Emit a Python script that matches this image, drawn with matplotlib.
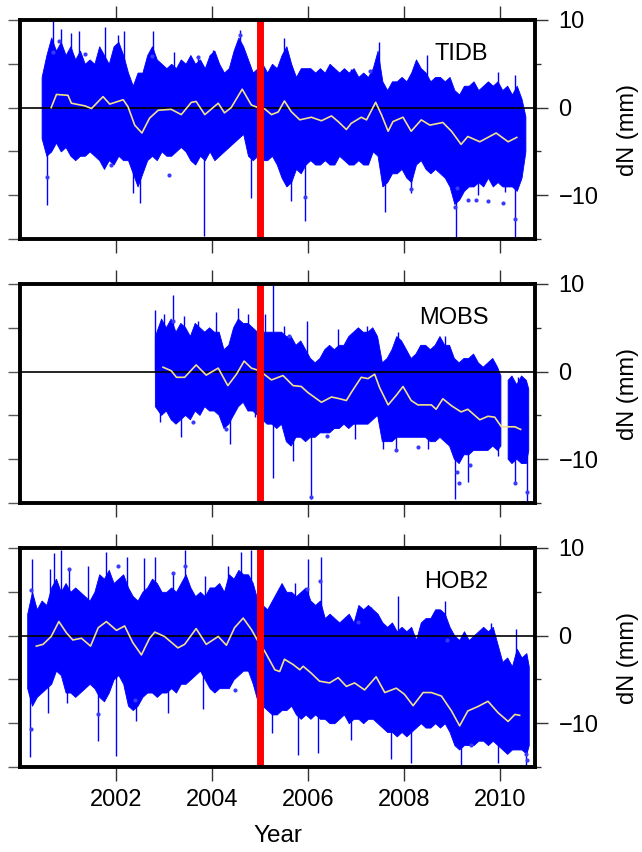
import matplotlib
matplotlib.use("Agg")
import matplotlib.pyplot as plt
import numpy as np

plt.rcParams['font.family'] = ['Liberation Sans', 'DejaVu Sans']

# ---------------- TIDB ----------------
tidb_yr = [2000.45, 2000.55, 2000.65, 2000.75, 2000.85, 2000.95,
           2001.05, 2001.15, 2001.25, 2001.35, 2001.45, 2001.55, 2001.65, 2001.75, 2001.85, 2001.95,
           2002.05, 2002.15, 2002.25, 2002.35, 2002.45, 2002.55, 2002.65, 2002.75, 2002.85, 2002.95,
           2003.05, 2003.15, 2003.25, 2003.35, 2003.45, 2003.55, 2003.65, 2003.75, 2003.85, 2003.95,
           2004.05, 2004.15, 2004.25, 2004.35, 2004.45, 2004.55, 2004.65, 2004.75, 2004.85, 2004.95,
           2005.05, 2005.15, 2005.25, 2005.35, 2005.45, 2005.55, 2005.65, 2005.75, 2005.85, 2005.95,
           2006.05, 2006.15, 2006.25, 2006.35, 2006.45, 2006.55, 2006.65, 2006.75, 2006.85, 2006.95,
           2007.05, 2007.15, 2007.25, 2007.35, 2007.45, 2007.55, 2007.65, 2007.75, 2007.85, 2007.95,
           2008.05, 2008.15, 2008.25, 2008.35, 2008.45, 2008.55, 2008.65, 2008.75, 2008.85, 2008.95,
           2009.05, 2009.15, 2009.25, 2009.35, 2009.45, 2009.55, 2009.65, 2009.75, 2009.85, 2009.95,
           2010.05, 2010.15, 2010.25, 2010.35, 2010.45, 2010.53]
tidb_up = [3.5, 6, 8, 6.5, 7.5, 6,
           7, 5.5, 6.5, 5, 5.5, 5, 7, 6, 5, 7,
           7.5, 6, 4, 2.5, 4, 4, 6, 7, 5.5, 5,
           4.5, 5, 4.5, 5.5, 5, 6, 5, 5.5, 4.5, 6,
           6.5, 5, 4, 4.5, 6.5, 8, 7, 5.5, 4, 4.5,
           5, 4, 5, 4.5, 6, 7, 5, 3.5, 4.5, 4.5,
           4.5, 4, 4.5, 4, 5, 4.5, 4, 4.5, 4, 4.5,
           3.5, 4, 3.5, 4.5, 6.5, 3, 2, 3, 3, 3.5,
           3, 4, 5.5, 4.5, 4, 3, 3.5, 3.5, 3, 3.5,
           2, 1.5, 2.5, 2.5, 3, 2, 2.5, 3, 2.5, 3,
           2, 2.5, 1.5, 2.5, 1, -1]
tidb_lo = [-3.5, -5.5, -5, -4, -5, -4.5,
           -5.5, -6, -5.5, -5.5, -5, -5.5, -6, -7, -6, -6.5,
           -5.5, -6, -6, -7.5, -9, -7.5, -6, -5.5, -6, -5,
           -5.5, -5.5, -5, -4.5, -5, -6, -6.5, -5.5, -6, -5,
           -6, -5.5, -5, -4.5, -4, -3.5, -3, -5.5, -6, -5.5,
           -6, -6, -5.5, -6.5, -8, -9, -8.5, -7, -7.5, -6.5,
           -6, -6.5, -6.5, -6, -6.5, -6.5, -5.5, -6, -6.5, -6.5,
           -6, -6.5, -6.5, -5, -5.5, -9, -8.5, -7.5, -7.5, -7,
           -8, -8.5, -6.5, -6, -7, -7.5, -7, -7.5, -8, -9,
           -11, -10.5, -9.5, -9, -9, -8.5, -9, -8, -9, -8.5,
           -9, -9, -9, -9.5, -8, -5]
tidb_sm_x = [2000.65, 2000.76, 2001.0, 2001.07, 2001.35, 2001.49, 2001.73, 2001.87, 2002.15, 2002.25,
             2002.39, 2002.54, 2002.70, 2002.88, 2003.15, 2003.36, 2003.57, 2003.67, 2003.85, 2004.13,
             2004.26, 2004.40, 2004.63, 2004.82, 2004.96, 2005.10, 2005.24, 2005.38, 2005.51, 2005.65,
             2005.83, 2006.07, 2006.28, 2006.49, 2006.63, 2006.80, 2006.90, 2007.11, 2007.22, 2007.41,
             2007.53, 2007.67, 2007.77, 2007.98, 2008.15, 2008.36, 2008.54, 2008.81, 2008.99, 2009.19,
             2009.33, 2009.58, 2009.92, 2010.17, 2010.35]
tidb_sm_y = [0.0, 1.5, 1.4, 0.5, 0.2, -0.1, 1.25, 0.4, 0.9, 0.1,
             -2.0, -2.9, -1.2, -0.3, -0.2, -0.8, 0.6, 0.7, -0.8, 0.5,
             -0.6, 0.0, 2.1, 0.3, 0.0, -0.15, -0.8, -0.5, 0.76, -0.45,
             -1.4, -1.1, -1.5, -0.95, -1.6, -2.5, -1.8, -1.1, -1.4, 0.6,
             -0.8, -2.7, -1.6, -1.1, -2.7, -1.4, -2.0, -1.7, -2.7, -4.2,
             -3.3, -3.9, -2.9, -3.9, -3.4]
# single long error bars: (year, low, high)
tidb_spk = [(2000.69, 0, 10), (2000.85, 0, 9.0), (2001.07, 0, 8.5), (2001.23, 0, 8.7),
            (2001.78, 0, 9.2), (2002.04, 0, 8.3), (2002.17, 0, 8.7), (2002.77, 0, 8.7),
            (2003.20, 0, 6.4), (2003.71, 0, 5.8), (2004.02, 0, 6.6), (2004.58, 0, 8.9),
            (2005.51, 0, 7.9), (2006.90, -2, 4.4), (2007.49, 0, 7.5), (2008.47, -2, 6.0),
            (2009.96, -3, 4.1), (2010.31, -3, 3.7),
            (2000.57, -11.1, -3), (2002.35, -9.8, -3), (2002.49, -10.9, -3), (2003.83, -14.7, -3),
            (2004.82, -10.3, -3), (2005.65, -10.7, -3), (2005.93, -13, -3), (2007.60, -11.9, -3),
            (2008.15, -9.8, -3), (2009.09, -15, -5), (2009.54, -10, -5), (2010.10, -9.6, -5),
            (2010.31, -15, -5)]
tidb_dot = [(2000.57, -7.9), (2000.68, 6.4), (2000.82, 7.6), (2001.35, 6.1), (2002.74, 5.9),
            (2003.70, 5.8), (2004.58, 8.3), (2001.90, -6.5), (2003.10, -7.7), (2005.93, -10.2),
            (2008.15, -9.3), (2009.06, -11.3), (2009.10, -9.2), (2009.33, -10.5), (2009.50, -10.6),
            (2009.75, -10.7), (2010.06, -10.9), (2010.31, -12.7), (2007.30, 4.2)]

# ---------------- MOBS ----------------
mobs_yr = [2002.82, 2002.95,
           2003.05, 2003.15, 2003.25, 2003.35, 2003.45, 2003.55, 2003.65, 2003.75, 2003.85, 2003.95,
           2004.05, 2004.15, 2004.25, 2004.35, 2004.45, 2004.55, 2004.65, 2004.75, 2004.85, 2004.95,
           2005.05, 2005.15, 2005.25, 2005.35, 2005.45, 2005.55, 2005.65, 2005.75, 2005.85, 2005.95,
           2006.05, 2006.15, 2006.25, 2006.35, 2006.45, 2006.55, 2006.65, 2006.75, 2006.85, 2006.95,
           2007.05, 2007.15, 2007.25, 2007.35, 2007.45, 2007.55, 2007.65, 2007.75, 2007.85, 2007.95,
           2008.05, 2008.15, 2008.25, 2008.35, 2008.45, 2008.55, 2008.65, 2008.75, 2008.85, 2008.95,
           2009.05, 2009.15, 2009.25, 2009.35, 2009.45, 2009.55, 2009.65, 2009.75, 2009.85, 2009.95,
           2010.02, 2010.10, 2010.17, 2010.25, 2010.35, 2010.45, 2010.55, 2010.60]
mobs_up = [4, 6,
           5, 6, 4.5, 5.5, 5, 4, 5.5, 5, 4.5, 5,
           4.5, 4.5, 2.5, 3, 5, 6, 5.5, 5.5, 5, 4.5,
           4.5, 4.5, 4.5, 4.5, 4.5, 4, 4, 3, 3.5, 2.5,
           1.5, 1, 1.5, 2.5, 3, 2.5, 3, 3, 4, 4.5,
           5, 4.5, 4.5, 5, 4, 1, 1.5, 2.5, 4, 3.5,
           2.5, 1.5, 2, 3, 3, 2.5, 3, 4, 3, 3,
           1.5, 1, 1.5, 1.5, 2, 1, 0.5, 1, 1.5, 0.5,
           -0.5, np.nan, -1, -0.5, -1.5, -0.5, -1, -2]
mobs_lo = [-4, -5,
           -4.5, -5.5, -6, -5.5, -5, -5.5, -4.5, -5, -4, -4.5,
           -4.5, -5, -6.5, -6, -5, -4, -3.5, -4.5, -4.5, -5,
           -5.5, -6, -6, -6.5, -6, -8, -8.5, -7.5, -7.5, -8,
           -7.5, -7.5, -7, -7, -7, -6.5, -6.5, -6, -6.5, -6,
           -6, -6, -6, -5.5, -5, -8, -8, -8, -7.5, -7.5,
           -7.5, -7.5, -7.5, -7.5, -7.5, -8, -8, -7.5, -8, -8.5,
           -10, -10.5, -9.5, -9.5, -9, -9, -9, -9, -8.5, -9,
           -8.5, np.nan, -10, -10.5, -10, -10.5, -10.5, -9]
mobs_sm_x = [2002.98, 2003.15, 2003.26, 2003.43, 2003.67, 2003.88, 2004.13, 2004.33, 2004.51, 2004.67,
             2004.82, 2004.99, 2005.24, 2005.48, 2005.69, 2005.86, 2006.00, 2006.28, 2006.49, 2006.66,
             2006.80, 2006.90, 2007.11, 2007.25, 2007.39, 2007.49, 2007.67, 2007.84, 2007.98, 2008.15,
             2008.29, 2008.57, 2008.67, 2008.81, 2008.99, 2009.19, 2009.33, 2009.58, 2009.75, 2009.89,
             2010.03, 2010.31, 2010.43]
mobs_sm_y = [0.5, 0.1, -0.65, -0.65, 0.76, -0.4, 0.4, -1.6, -0.3, 1.2,
             0.4, 0.1, -0.95, -0.45, -1.6, -1.7, -2.4, -3.5, -2.9, -3.1,
             -3.3, -2.4, -0.65, -0.8, -0.3, -1.8, -3.8, -2.7, -1.7, -3.3,
             -3.8, -3.8, -4.3, -3.1, -3.9, -4.6, -4.3, -5.5, -5.1, -5.2,
             -6.3, -6.3, -6.6]
mobs_spk = [(2002.82, 0, 7.0), (2003.01, 0, 6.6), (2003.19, 0, 8.8), (2003.42, 0, 6.4),
            (2003.71, 0, 5.8), (2004.08, 0, 6.8), (2004.54, 0, 7.3), (2004.75, 0, 6.6),
            (2005.10, 0, 6.6), (2005.27, -12.2, 10), (2005.51, 0, 5.2), (2005.99, -2, 5.8),
            (2006.63, -2, 4.9), (2007.22, 0, 5.2), (2007.88, -2, 4.5), (2008.85, -2, 4.1),
            (2009.82, -4, 1.3), (2010.38, -5, -0.6),
            (2002.91, -5.8, 0), (2003.36, -7.5, 0), (2004.37, -8.3, 0), (2004.89, -5.2, 0),
            (2005.69, -10.2, -2), (2006.06, -14.5, -3), (2006.97, -7.7, -2), (2007.56, -8.8, -2),
            (2007.84, -9.0, -2), (2008.50, -8.8, -3), (2009.06, -14.5, -4), (2009.33, -12.6, -4),
            (2009.96, -9.6, -5), (2010.32, -12.8, -5), (2010.56, -14.9, -5)]
mobs_dot = [(2006.06, -14.3), (2009.10, -11.5), (2009.15, -12.7), (2009.37, -10.7), (2010.32, -12.7),
            (2010.56, -13.8), (2007.84, -9.0), (2003.19, 5.8), (2004.30, -6.5), (2005.60, 4.1),
            (2006.40, -7.3), (2008.30, -8.6), (2003.60, -5.8)]

# ---------------- HOB2 ----------------
hob2_yr = [2000.15, 2000.25, 2000.35, 2000.45, 2000.55, 2000.65, 2000.75, 2000.85, 2000.95,
           2001.05, 2001.15, 2001.25, 2001.35, 2001.45, 2001.55, 2001.65, 2001.75, 2001.85, 2001.95,
           2002.05, 2002.15, 2002.25, 2002.35, 2002.45, 2002.55, 2002.65, 2002.75, 2002.85, 2002.95,
           2003.05, 2003.15, 2003.25, 2003.35, 2003.45, 2003.55, 2003.65, 2003.75, 2003.85, 2003.95,
           2004.05, 2004.15, 2004.25, 2004.35, 2004.45, 2004.55, 2004.65, 2004.75, 2004.85, 2004.95,
           2005.05, 2005.15, 2005.25, 2005.35, 2005.45, 2005.55, 2005.65, 2005.75, 2005.85, 2005.95,
           2006.05, 2006.15, 2006.25, 2006.35, 2006.45, 2006.55, 2006.65, 2006.75, 2006.85, 2006.95,
           2007.05, 2007.15, 2007.25, 2007.35, 2007.45, 2007.55, 2007.65, 2007.75, 2007.85, 2007.95,
           2008.05, 2008.15, 2008.25, 2008.35, 2008.45, 2008.55, 2008.65, 2008.75, 2008.85, 2008.95,
           2009.05, 2009.15, 2009.25, 2009.35, 2009.45, 2009.55, 2009.65, 2009.75, 2009.85, 2009.95,
           2010.05, 2010.15, 2010.25, 2010.35, 2010.45, 2010.55, 2010.60]
hob2_up = [2.5, 5, 3, 4, 3.5, 5.5, 6.5, 5, 6,
           5, 5.5, 5, 4.5, 4, 5, 7, 6.5, 7.5, 6,
           6.5, 7, 5.5, 4.5, 4, 5, 5.5, 6.5, 6, 5,
           5, 5.5, 5, 6, 7, 5.5, 4.5, 5, 4.5, 5.5,
           5.5, 6, 5, 7, 6.5, 7.5, 7, 7, 6, 4,
           3.5, 3, 4, 5, 6, 5, 5, 4.5, 5, 5.5,
           4, 3.5, 4, 2, 2.5, 2, 1.5, 2, 2.5, 1.5,
           3.5, 3, 3.5, 3, 2.5, 1.5, 1, 1.5, 0.5, 1,
           0.5, 1, -0.5, 1.5, 2, 2, 3, 3, 2.5, 1,
           0, -0.5, 0.5, -0.5, 0, 0.5, 1, 0.5, 1, -1,
           -3, -2.5, -3.5, -1.5, -2.5, -2, -3.5]
hob2_lo = [-6, -8, -7, -6.5, -6, -5.5, -4, -4.5, -6.5,
           -6.5, -7, -6.5, -6, -5.5, -6, -7, -7.5, -6.5, -5,
           -4.5, -5.5, -8, -8.5, -8, -7, -6.5, -6.5, -7, -6.5,
           -6.5, -6, -6.5, -5.5, -5.5, -5, -4.5, -4, -5, -6,
           -6.5, -6, -6, -6, -5, -4.5, -4, -4, -5.5, -7.5,
           -8, -8.5, -9, -9, -8.5, -8.5, -8, -9, -9.5, -9,
           -9.5, -9, -9.5, -9.5, -10, -10, -9.5, -9, -10, -9.5,
           -9.5, -10, -9.5, -9.5, -10, -10.5, -11, -11, -11.5, -11,
           -11.5, -11, -10.5, -10, -10.5, -10.5, -10, -10.5, -10, -11,
           -12.5, -13, -12.5, -12.5, -12.5, -12, -12, -12.5, -12, -12.5,
           -13, -13.5, -13, -13, -13, -13.5, -12.5]
hob2_sm_x = [2000.34, 2000.48, 2000.65, 2000.81, 2000.97, 2001.10, 2001.28, 2001.47, 2001.63, 2001.80,
             2002.01, 2002.18, 2002.35, 2002.53, 2002.70, 2002.81, 2003.01, 2003.29, 2003.43, 2003.67,
             2003.88, 2004.13, 2004.30, 2004.47, 2004.65, 2004.82, 2004.96, 2005.10, 2005.31, 2005.41,
             2005.51, 2005.69, 2005.83, 2005.90, 2006.07, 2006.24, 2006.45, 2006.63, 2006.80, 2006.97,
             2007.18, 2007.42, 2007.60, 2007.84, 2008.01, 2008.19, 2008.40, 2008.57, 2008.78, 2008.99,
             2009.16, 2009.33, 2009.54, 2009.75, 2009.96, 2010.17, 2010.31, 2010.41]
hob2_sm_y = [-1.2, -1.0, -0.1, 1.6, 0.3, -0.5, -0.3, -1.2, 0.9, 1.6,
             0.6, 1.1, -0.8, -2.2, -0.3, 0.4, -0.1, -1.4, -1.0, 0.8,
             -1.0, -0.1, -1.1, 0.9, 2.0, 0.7, -0.65, -1.8, -3.9, -4.1,
             -2.7, -3.3, -3.9, -3.5, -4.3, -5.2, -5.4, -4.8, -5.8, -5.4,
             -6.2, -4.7, -6.5, -6.0, -6.7, -8.0, -6.5, -6.5, -6.9, -8.6,
             -10.3, -8.6, -8.1, -7.5, -8.8, -9.8, -9.0, -9.1]
hob2_spk = [(2000.24, 0, 8.7), (2000.62, 0, 7.6), (2000.70, 0, 9.4), (2000.86, 0, 9.8),
            (2001.03, 0, 7.7), (2001.42, 0, 7.9), (2001.80, 0, 9.6), (2002.22, 0, 9.0),
            (2002.58, 0, 8.9), (2002.81, 0, 9.0), (2003.19, 0, 7.3), (2003.43, 0, 9.8),
            (2003.85, 0, 6.8), (2004.33, 0, 7.9), (2004.61, 0, 9.6), (2004.82, 0, 9.8),
            (2005.72, -3, 6.0), (2006.00, -3, 8.7), (2006.28, -3, 9.0), (2007.32, -5, 3.3),
            (2007.88, -5, 4.5), (2008.85, -5, 3.9), (2009.82, -7, 1.4), (2010.34, -7, 0.7),
            (2000.20, -13.9, 0), (2000.58, -8.8, 0), (2000.97, -7.7, 0), (2001.63, -12, 0),
            (2002.01, -13.8, 0), (2002.42, -9.8, 0), (2003.08, -8.8, 0), (2003.81, -8.4, 0),
            (2005.24, -11.1, -4), (2005.79, -13.6, -4), (2006.21, -13.4, -5), (2006.90, -11.9, -5),
            (2007.74, -14.1, -6), (2008.15, -14.5, -7), (2009.19, -15, -8), (2009.96, -14.5, -8),
            (2010.55, -15, -8)]
hob2_dot = [(2000.22, 5.2), (2000.22, -10.7), (2001.63, -8.9), (2006.26, 6.2), (2005.99, 5.3),
            (2003.43, 7.9), (2003.19, 7.1), (2001.03, 7.6), (2002.05, 8.0), (2002.40, -7.3),
            (2004.47, -6.2), (2007.05, 1.6), (2008.90, -0.5), (2009.40, -12.5),
            (2010.55, -13.5), (2010.56, -14.2)]

names = ["TIDB", "MOBS", "HOB2"]
panels = [(tidb_yr, tidb_up, tidb_lo, tidb_sm_x, tidb_sm_y, tidb_spk, tidb_dot),
          (mobs_yr, mobs_up, mobs_lo, mobs_sm_x, mobs_sm_y, mobs_spk, mobs_dot),
          (hob2_yr, hob2_up, hob2_lo, hob2_sm_x, hob2_sm_y, hob2_spk, hob2_dot)]
quake = 2005.0

fig = plt.figure(figsize=(6.42, 8.52), dpi=100)
W, H = 642.0, 852.0
tops = [20, 284, 548]
ph = 219

for i, (name, (yr, up, lo, smx, smy, spk, dot)) in enumerate(zip(names, panels)):
    top = tops[i]
    ax = fig.add_axes([20 / W, 1 - (top + ph) / H, 515 / W, ph / H])

    ax.fill_between(yr, lo, up, color='blue', edgecolor='blue', lw=0.6, zorder=2)
    for x, a, b in spk:
        ax.vlines(x, a, b, color='blue', lw=1.0, zorder=2)
    dx = [d[0] for d in dot]
    dy = [d[1] for d in dot]
    ax.plot(dx, dy, 'o', color='#3a3aff', ms=3, mew=0, zorder=3)

    ax.axhline(0, color='black', lw=1.2, zorder=3)
    ax.plot(smx, smy, color='#f2e08a', lw=1.2, zorder=4)
    ax.axvline(quake, color='red', lw=5, zorder=5)

    ax.set_xlim(2000.0, 2010.73)
    ax.set_ylim(-15, 10)
    for s in ax.spines.values():
        s.set_linewidth(2.8)
        s.set_zorder(6)

    ax.set_yticks([-15, -10, -5, 0, 5, 10])
    ax.tick_params(axis='y', left=True, right=False, labelleft=False,
                   length=9, width=1, color='0.35', direction='out')
    ax.set_xticks([2002, 2004, 2006, 2008, 2010])
    ax.set_xticklabels(['2002', '2004', '2006', '2008', '2010'])
    ax.tick_params(axis='x', top=True, bottom=True, length=10, width=1,
                   color='0.2', direction='out', labelsize=17, pad=6,
                   labelbottom=(i == 2))

    sec = ax.secondary_yaxis('right')
    sec.set_yticks([-10, 0, 10])
    sec.set_yticklabels(['\u221210', '0', '10'])
    sec.set_yticks([-15, -5, 5], minor=True)
    sec.tick_params(which='major', length=9, width=1, color='0.2', labelsize=17, pad=8)
    sec.tick_params(which='minor', length=4, width=1, color='0.2')
    sec.spines['right'].set_visible(False)

    ax.text(0.909, 0.845, name, transform=ax.transAxes, ha='right', va='center',
            fontsize=17)
    fig.text(628 / W, 1 - (top + ph / 2) / H, 'dN (mm)', rotation=90,
             ha='center', va='center', fontsize=17)

fig.text(277.5 / W, 1 - 836 / H, 'Year', ha='center', va='center', fontsize=17.5)

fig.savefig('out.png', dpi=100)
